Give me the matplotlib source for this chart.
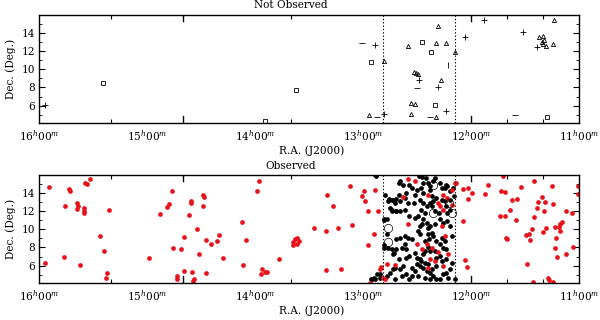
import numpy as np
import matplotlib
matplotlib.use("Agg")
import matplotlib.pyplot as plt

plt.rcParams['font.family'] = ['DejaVu Serif']
plt.rcParams['mathtext.fontset'] = 'dejavuserif'

# ---- Not observed (top panel), RA in hours, Dec in degrees
plus_ra = [15.94, 12.89, 12.48, 12.31, 12.23, 12.81, 12.06, 11.88, 11.52, 11.39]
plus_dec = [6.1, 12.7, 8.85, 8.1, 5.45, 5.1, 13.55, 15.4, 14.1, 12.5]
tri_ra = [12.81, 12.94, 12.31, 12.58, 12.32, 12.23, 12.15, 12.51, 12.53, 12.49, 12.28,
          12.56, 12.52, 12.56, 12.32, 11.23, 11.37, 11.33, 11.32, 11.34, 11.31, 11.33, 11.24]
tri_dec = [10.9, 5.0, 14.77, 12.6, 12.9, 12.9, 11.9, 9.6, 9.75, 9.5, 8.85,
           6.3, 6.2, 5.1, 4.8, 15.4, 13.6, 13.7, 13.2, 13.0, 12.6, 12.8, 12.8]
sq_ra = [15.41, 12.93, 13.62, 13.91, 12.45, 12.37, 12.33, 11.30]
sq_dec = [8.52, 10.8, 7.75, 4.35, 13.0, 11.9, 6.1, 4.8]
dash_ra = [13.01, 12.87, 12.50, 12.38, 11.59]
dash_dec = [12.9, 4.7, 7.97, 4.8, 5.0]
vbar_ra = [12.21]
vbar_dec = [10.5]

# ---- Observed (bottom panel)
red_ra = [15.905, 15.722, 15.713, 15.574, 15.558, 15.528, 15.759, 15.645, 15.642, 15.645,
          15.583, 15.583, 15.58, 15.352, 15.435, 15.398, 15.769, 15.62, 15.944, 15.367,
          15.383, 14.979, 14.88, 14.812, 14.794, 14.772, 14.757, 14.72, 14.722, 14.688,
          14.657, 14.654, 14.611, 14.595, 14.593, 14.586, 14.54, 14.519, 14.565, 14.577,
          14.479, 14.472, 14.484, 14.454, 14.407, 14.349, 14.333, 14.299, 14.454, 14.117,
          14.083, 14.108, 13.963, 13.979, 13.935, 13.907, 13.944, 13.886, 13.778, 13.645,
          13.63, 13.608, 13.593, 13.645, 13.608, 13.454, 13.346, 13.336, 13.281, 13.229,
          13.105, 13.12, 13.346, 13.204, 12.988, 13.006, 12.981, 12.889, 12.951, 12.858,
          12.898, 12.951, 12.833, 12.781, 12.704, 12.818, 12.796, 12.935,
          12.142, 12.071, 12.025, 11.994, 12.025, 11.87, 11.84, 11.707, 11.725, 11.685,
          11.623, 11.577, 11.537, 11.417, 11.253, 11.006, 11.006, 11.345, 11.377, 11.315,
          11.244, 11.392, 11.324, 11.123, 11.068, 11.731, 11.685, 11.639, 11.583, 11.417,
          12.077, 11.16, 11.176, 11.306, 11.222, 11.182, 11.438, 11.491, 11.46, 11.676,
          11.664, 11.454, 11.331, 11.213, 11.176, 11.059, 11.222, 11.201, 11.123, 12.056,
          12.034, 11.479, 11.423, 11.29, 11.278, 11.238,
          12.58, 12.519, 12.395, 12.303, 12.287, 12.225, 12.256, 12.179, 12.148, 12.179,
          12.256, 12.58, 12.503, 12.41, 12.457, 12.364, 12.303, 12.272, 12.241, 12.21,
          12.38, 12.333, 12.395, 12.256, 12.843, 12.63]
red_dec = [14.61, 14.47, 14.25, 15.10, 15.02, 15.57, 12.53, 12.90, 12.53, 12.25,
           12.36, 11.99, 11.81, 12.17, 9.25, 7.57, 6.99, 6.03, 6.25, 5.16,
           4.64, 6.87, 11.70, 12.50, 12.79, 14.18, 7.90, 4.86, 4.57, 7.86,
           9.13, 5.41, 11.62, 13.16, 12.90, 5.34, 9.98, 7.24, 4.57, 4.31,
           13.81, 13.56, 12.53, 8.77, 8.33, 8.70, 9.32, 6.88, 5.23, 10.78,
           8.81, 6.03, 15.27, 14.18, 5.59, 5.30, 5.05, 5.30, 6.77, 8.59,
           8.88, 8.99, 8.70, 8.23, 8.33, 10.09, 9.79, 13.81, 12.53, 10.16,
           10.45, 14.80, 5.52, 5.59, 14.18, 13.63, 13.08, 14.29, 11.99, 11.99,
           9.51, 8.23, 5.89, 6.14, 6.03, 4.68, 4.57, 4.14,
           15.10, 14.44, 14.55, 14.00, 13.38, 13.89, 14.91, 15.90, 14.18, 14.07,
           13.27, 13.34, 14.61, 15.27, 14.80, 14.80, 13.92, 13.56, 13.01, 13.01,
           12.79, 12.36, 11.99, 12.06, 11.81, 11.44, 11.51, 12.17, 11.00, 11.37,
           10.89, 10.78, 10.53, 10.16, 10.23, 10.23, 10.05, 9.32, 9.43, 9.07,
           8.96, 8.81, 9.68, 9.07, 9.79, 8.08, 7.93, 6.99, 7.24, 6.61,
           5.89, 6.22, 4.20, 4.68, 4.42, 4.20,
           15.53, 15.27, 13.81, 12.90, 12.53, 13.45, 13.81, 12.72, 15.10, 14.36,
           12.17, 10.53, 8.33, 8.33, 7.79, 7.97, 7.49, 10.34, 9.25, 7.24,
           6.69, 6.50, 5.78, 5.96, 5.59, 13.50]

blk_ra = [12.88, 12.67, 12.66, 12.63, 12.57, 12.48, 12.45, 12.42, 12.40, 12.38,
          12.35, 12.33, 12.29, 12.27, 12.24, 12.22, 12.19, 12.16, 12.19, 12.24,
          12.27, 12.32, 12.35, 12.38, 12.41, 12.44, 12.47, 12.46, 12.43, 12.36,
          12.33, 12.30, 12.23, 12.19, 12.22, 12.29, 12.26, 12.33, 12.38, 12.41,
          12.44, 12.49, 12.52, 12.57, 12.61, 12.66, 12.69, 12.73, 12.75, 12.72,
          12.77, 12.70, 12.66, 12.61, 12.58, 12.53, 12.67, 12.60, 12.52, 12.50,
          12.55, 12.38, 12.44, 12.36, 12.46, 12.44,
          12.78, 12.78, 12.69, 12.66, 12.61, 12.58, 12.55, 12.61, 12.64, 12.60,
          12.69, 12.72, 12.67, 12.60, 12.57, 12.52, 12.50, 12.47, 12.44, 12.43,
          12.40, 12.39, 12.40, 12.47, 12.49, 12.47, 12.45, 12.40, 12.36, 12.35,
          12.32, 12.29, 12.26, 12.23, 12.24, 12.27, 12.33, 12.32, 12.29, 12.27,
          12.32, 12.36, 12.41, 12.44, 12.47, 12.50, 12.46, 12.43, 12.40, 12.38,
          12.35, 12.32, 12.38, 12.43, 12.49, 12.55, 12.60, 12.64, 12.66, 12.63,
          12.72, 12.75, 12.78, 12.84, 12.89, 12.92, 12.87, 12.55, 12.52, 12.26,
          12.23, 12.19, 12.18, 12.21, 12.15, 12.29, 12.57, 12.70, 12.77, 12.81,
          12.43, 12.38, 12.23, 12.17, 12.22, 12.19, 12.18, 12.23, 12.81, 12.89,
          12.80, 12.76, 12.73, 12.69, 12.73, 12.69, 12.81, 12.81, 12.73, 12.71,
          12.70, 12.90, 12.93, 12.84]
blk_dec = [15.90, 15.09, 15.28, 14.91, 14.91, 15.90, 15.75, 15.64, 15.09, 14.80,
           15.28, 15.64, 15.09, 14.55, 14.55, 14.80, 14.18, 13.63, 13.27, 13.09,
           13.27, 13.45, 13.09, 12.90, 12.54, 12.90, 13.27, 12.17, 11.81, 12.54,
           11.99, 11.81, 12.54, 12.17, 11.81, 11.08, 10.71, 10.53, 10.35, 10.71,
           11.08, 11.44, 11.26, 11.44, 12.17, 11.99, 11.99, 11.99, 12.35, 13.27,
           13.09, 12.90, 13.09, 13.45, 12.90, 12.90, 13.82, 14.00, 13.82, 14.36,
           14.55, 14.36, 14.00, 13.63, 14.55, 15.09,
           11.08, 9.43, 8.88, 9.07, 9.25, 9.07, 8.88, 8.34, 7.97, 7.79,
           7.79, 7.24, 6.77, 6.88, 7.06, 7.42, 6.88, 6.69, 7.24, 7.61,
           8.08, 8.88, 9.43, 9.43, 9.80, 10.35, 10.53, 10.16, 9.61, 9.25,
           8.70, 8.34, 7.97, 7.79, 8.70, 9.07, 7.61, 6.88, 7.06, 6.51,
           5.96, 5.60, 5.41, 5.78, 5.96, 6.14, 6.51, 6.33, 6.14, 5.23,
           4.87, 4.50, 4.50, 4.68, 4.87, 4.87, 5.05, 4.87, 5.60, 5.96,
           5.60, 5.23, 4.87, 4.68, 4.50, 4.50, 5.05, 5.78, 5.41, 5.05,
           5.23, 5.60, 6.33, 4.68, 4.50, 4.50, 4.50, 4.50, 7.97, 7.97,
           8.70, 7.61, 14.91, 14.55, 10.89, 10.35, 9.25, 6.69, 11.08, 15.95,
           13.81, 13.34, 13.19, 13.34, 12.17, 11.99, 11.00, 8.30, 7.79, 7.42,
           5.78, 4.68, 4.50, 5.05]

ring_ra = [12.77, 12.77, 12.35, 12.18, 12.20, 12.35]
ring_dec = [10.16, 8.59, 14.91, 11.81, 12.90, 11.81]

# dotted boundaries of the observed strip (hours)
strip = [12.815, 12.148]

hour_ticks = [16, 15, 14, 13, 12, 11]
hour_labels = ['%d$^{h}$00$^{m}$' % h for h in hour_ticks]
short_ticks = [15 + 20/60, 13 + 40/60, 13.0, 11 + 40/60, 11 + 20/60]
long_ticks = [14 + 40/60, 12.0]

fs = 7.6
fig = plt.figure(figsize=(6, 3.2), dpi=100)
ax1 = fig.add_axes([0.065, 0.616, 0.9, 0.338])
ax2 = fig.add_axes([0.065, 0.116, 0.9, 0.338])

red = '#e8121b'
mk = dict(linestyle='none', mfc='none', mec='black', mew=0.6, color='black')
ax1.plot(plus_ra, plus_dec, marker='+', ms=4.5, **mk)
ax1.plot(tri_ra, tri_dec, marker='^', ms=3, **mk)
ax1.plot(sq_ra, sq_dec, marker='s', ms=2.8, **mk)
ax1.plot(dash_ra, dash_dec, marker='_', ms=4.5, **mk)
ax1.plot(vbar_ra, vbar_dec, marker='|', ms=4, **mk)

ax2.plot(blk_ra, blk_dec, 'o', color='black', ms=3.4, mew=0)
ax2.plot(red_ra, red_dec, 'o', color=red, ms=3.4, mew=0)
ax2.plot(ring_ra, ring_dec, 'o', mfc='none', mec='black', ms=6, mew=0.5)

for ax in (ax1, ax2):
    for s in strip:
        ax.axvline(s, color='black', ls=(0, (1.2, 1.8)), lw=0.8)
    ax.set_xlim(16, 11)
    ax.set_ylim(4.1, 16.0)
    ax.set_xticks(hour_ticks)
    ax.set_xticklabels(hour_labels)
    ax.set_xticks(short_ticks, minor=True)
    ax.set_yticks([6, 8, 10, 12, 14])
    ax.set_yticks(range(5, 16), minor=True)
    ax.tick_params(axis='x', which='major', length=0, pad=4, labelsize=fs)
    ax.tick_params(axis='x', which='minor', direction='in', length=3, width=0.8,
                   top=True, bottom=True)
    ax.tick_params(axis='y', which='major', direction='in', length=4.5, width=0.8,
                   left=True, right=True, labelsize=fs, pad=3)
    ax.tick_params(axis='y', which='minor', direction='in', length=2.5, width=0.6,
                   left=True, right=True)
    for t in long_ticks:
        ax.plot([t, t], [0, 0.06], color='black', lw=1, transform=ax.get_xaxis_transform())
        ax.plot([t, t], [0.94, 1], color='black', lw=1, transform=ax.get_xaxis_transform())
    for sp in ax.spines.values():
        sp.set_linewidth(1.0)
    ax.set_xlabel('R.A. (J2000)', fontsize=fs)
    ax.xaxis.set_label_coords(0.505, -0.21)
    ax.set_ylabel('Dec. (Deg.)', fontsize=fs, labelpad=4)

fig.text(0.485, 0.984, 'Not Observed', ha='center', va='center', fontsize=fs)
fig.text(0.485, 0.481, 'Observed', ha='center', va='center', fontsize=fs)

fig.savefig('out.png', dpi=100)
